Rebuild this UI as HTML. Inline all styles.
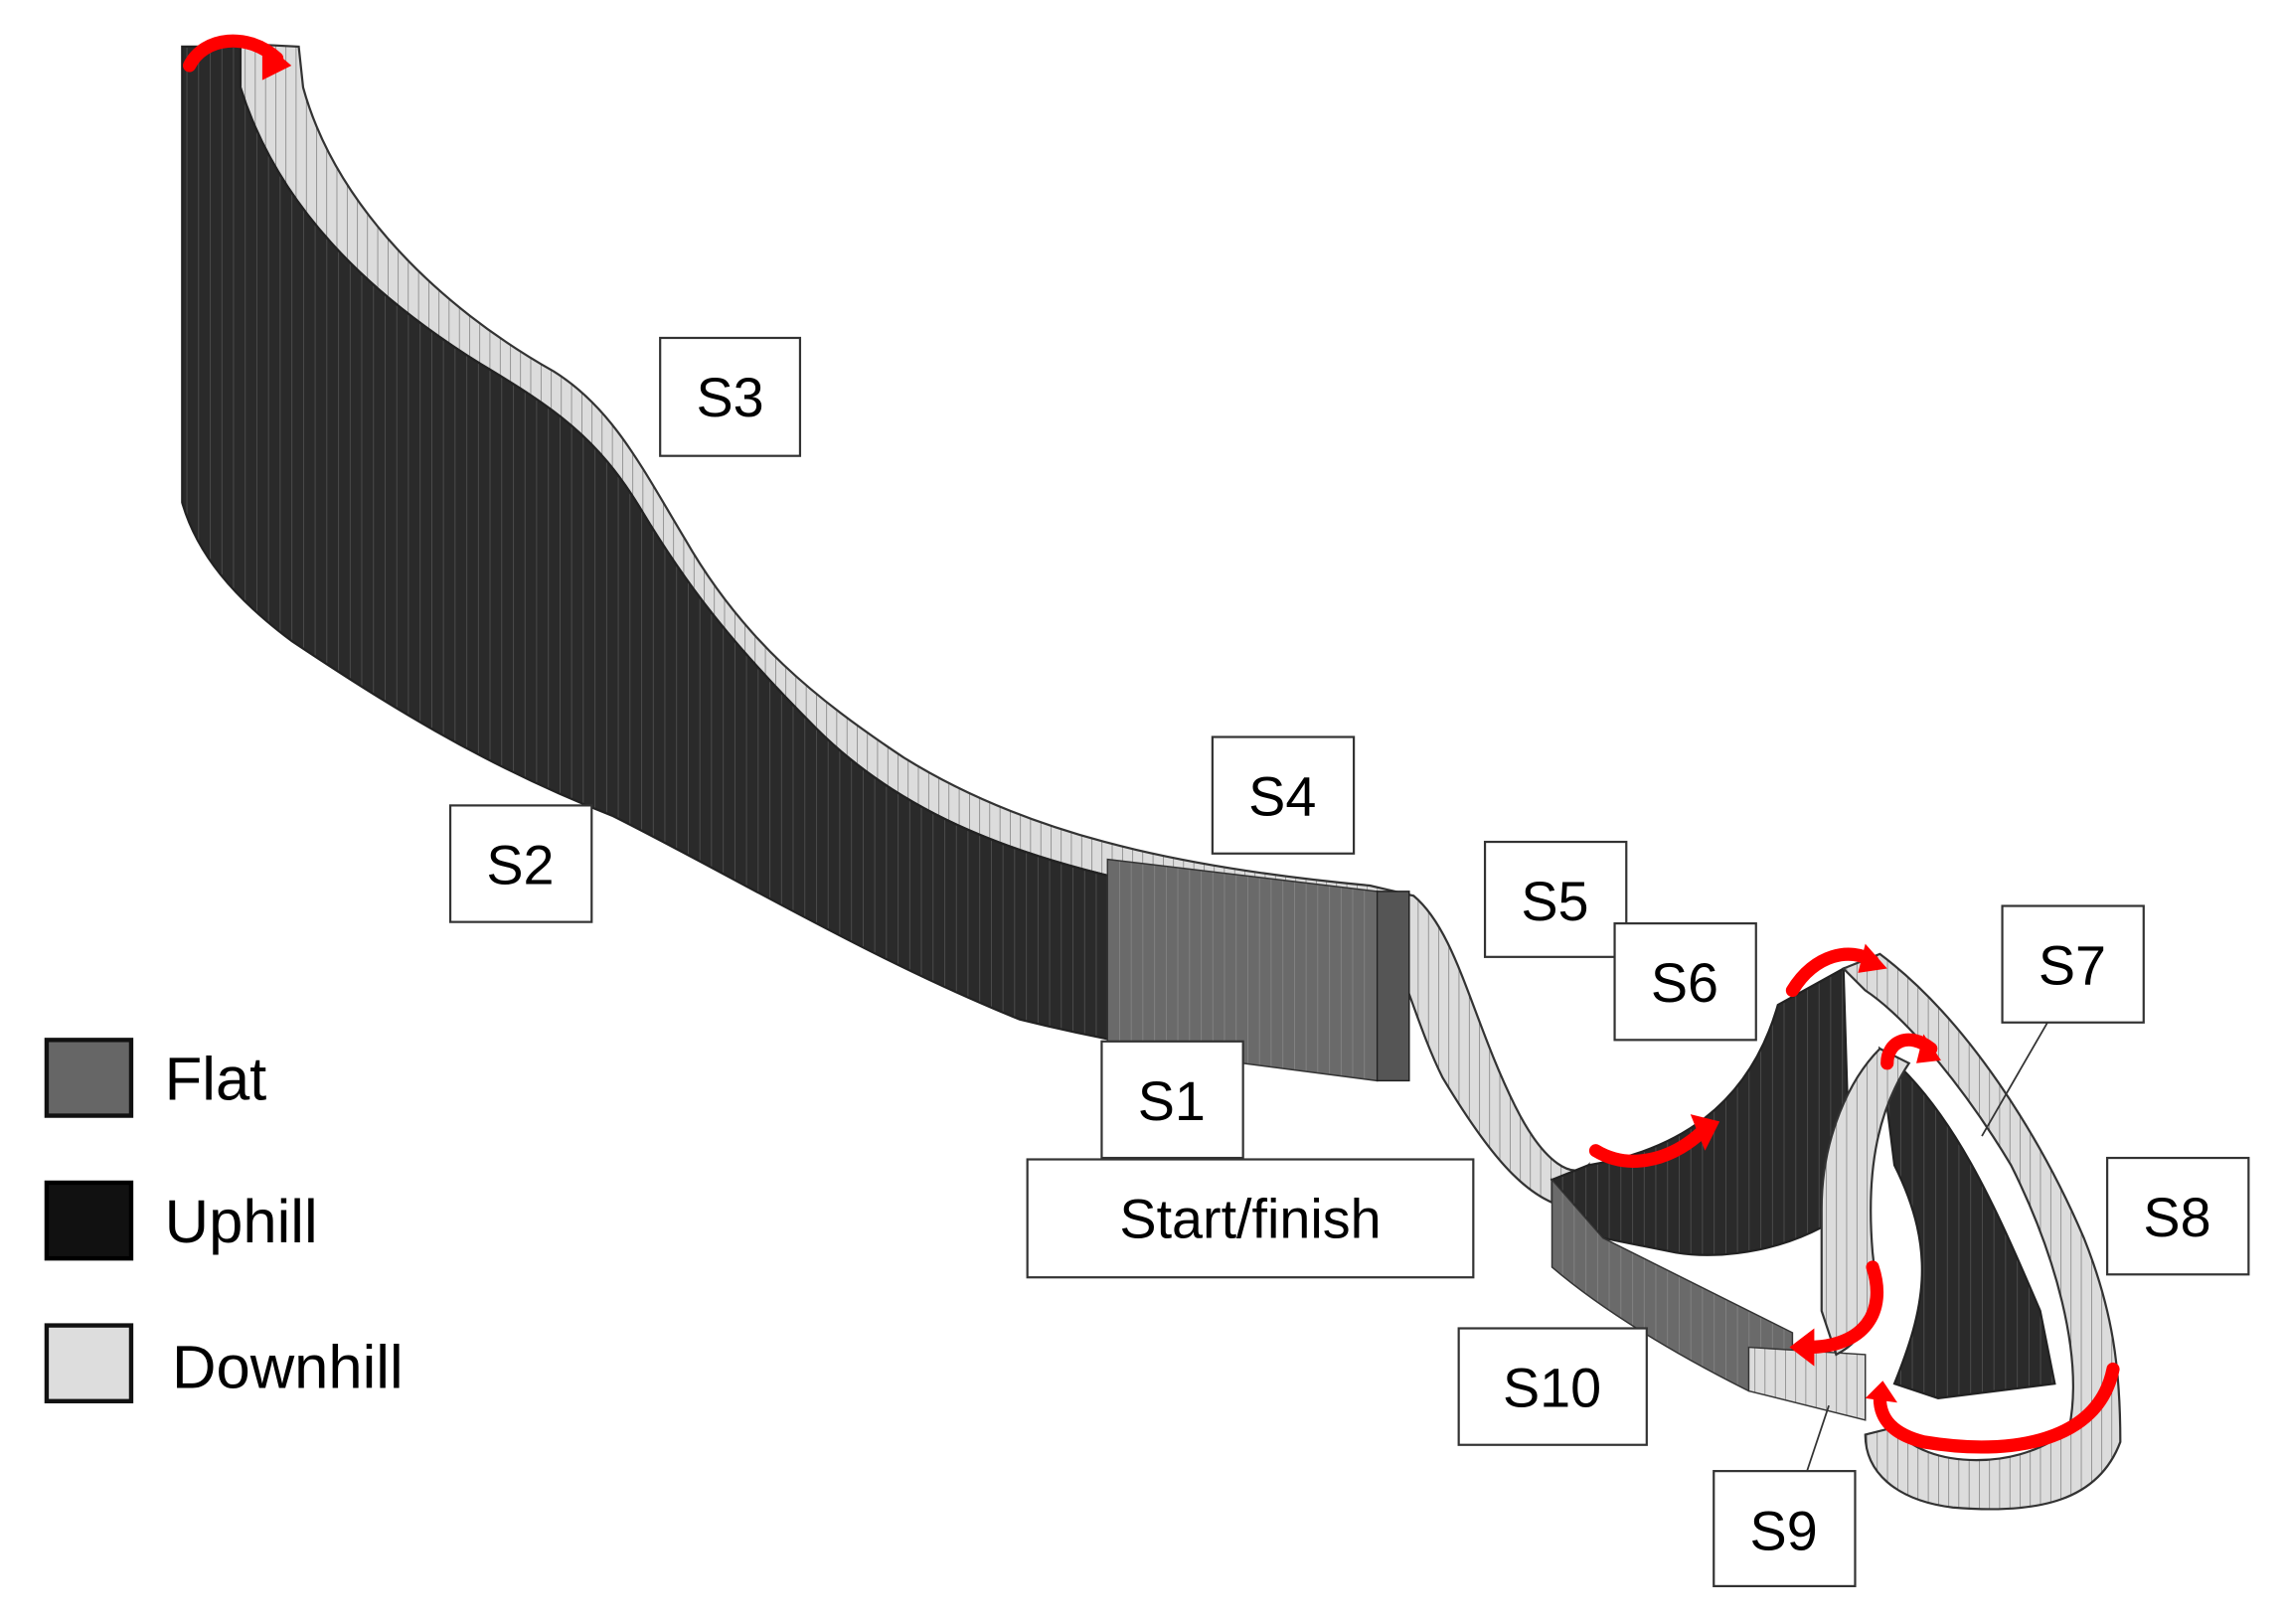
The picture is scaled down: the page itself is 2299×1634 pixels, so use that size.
<!DOCTYPE html>
<html><head><meta charset="utf-8"><style>
html,body{margin:0;padding:0;background:#fff;}
svg{display:block;}
text{font-family:"Liberation Sans",sans-serif;fill:#000;}
</style></head><body>
<svg width="2299" height="1634" viewBox="0 0 1568 1115" preserveAspectRatio="none" xmlns="http://www.w3.org/2000/svg">
<defs>
<pattern id="vl" width="8" height="10" patternUnits="userSpaceOnUse"><rect width="8" height="10" fill="#2a2a2a"/><line x1="0" y1="0" x2="0" y2="10" stroke="#555" stroke-width="1"/></pattern>
<pattern id="vlf" width="8" height="10" patternUnits="userSpaceOnUse"><rect width="8" height="10" fill="#6a6a6a"/><line x1="0" y1="0" x2="0" y2="10" stroke="#888" stroke-width="1"/></pattern>
<pattern id="vll" width="7" height="10" patternUnits="userSpaceOnUse"><rect width="7" height="10" fill="#dcdcdc"/><line x1="0" y1="0" x2="0" y2="10" stroke="#666" stroke-width="0.8"/></pattern>
</defs>
<!-- light top strip -->
<path d="M165,30 L205,32 L208,60 C230,140 300,210 380,255 C420,280 440,320 470,370 C510,440 560,480 620,520 C700,570 800,595 940,608 L970,615 C1000,640 1010,700 1040,760 C1060,800 1080,810 1090,800 L1085,830 C1050,830 1020,790 990,740 C970,700 960,650 945,640 L800,610 C700,590 620,560 560,500 C500,440 470,400 440,350 C410,300 380,280 330,250 C250,200 190,140 165,60 Z" fill="url(#vll)" stroke="#333" stroke-width="1.5"/>
<!-- main dark wall -->
<path d="M125,32 L165,32 L165,60 C190,140 250,200 330,250 C380,280 410,300 440,350 C470,400 500,440 560,500 C620,560 700,590 800,610 L945,615 L945,740 L900,735 C820,725 760,715 700,700 C600,660 500,600 420,560 C330,525 260,480 200,440 C160,410 135,380 125,345 Z" fill="url(#vl)" stroke="#222" stroke-width="1.5"/>
<!-- flat section -->
<path d="M760,590 L945,612 L945,742 L760,718 Z" fill="url(#vlf)" stroke="#333" stroke-width="1"/>
<rect x="945" y="612" width="22" height="130" fill="#555" stroke="#222"/>
<!-- right area -->
<path d="M1065,810 L1090,800 C1150,790 1200,760 1220,690 L1265,665 L1270,830 C1230,860 1180,865 1150,860 L1100,850 Z" fill="url(#vl)" stroke="#222" stroke-width="1.5"/>
<path d="M1065,810 L1100,850 L1230,915 L1230,950 L1200,955 C1150,930 1100,900 1065,870 Z" fill="url(#vlf)" stroke="#333" stroke-width="1"/>
<path d="M1200,925 L1280,930 L1280,975 L1200,955 Z" fill="url(#vll)" stroke="#333"/>
<path d="M1265,665 L1290,655 C1350,700 1400,780 1430,850 C1450,900 1455,940 1455,990 C1440,1030 1400,1040 1340,1035 C1300,1030 1280,1010 1280,985 L1300,980 C1320,1010 1390,1010 1420,980 C1430,930 1410,860 1380,800 C1350,750 1310,700 1280,680 Z" fill="url(#vll)" stroke="#333" stroke-width="1.5"/>
<path d="M1290,720 C1340,760 1370,830 1400,900 L1410,950 L1330,960 L1300,950 C1320,900 1330,860 1300,800 Z" fill="url(#vl)" stroke="#222" stroke-width="1.5"/>
<path d="M1250,830 C1250,780 1270,740 1290,720 L1310,730 C1290,760 1280,800 1285,860 C1290,900 1280,920 1260,930 L1250,900 Z" fill="url(#vll)" stroke="#333" stroke-width="1.5"/>
<!-- red arrows -->
<g fill="none" stroke="#f00" stroke-width="9" stroke-linecap="round">
<path d="M130,45 C140,25 170,22 190,40"/>
<path d="M1095,790 C1120,805 1150,795 1170,775"/>
<path d="M1230,680 C1245,655 1270,650 1285,660"/>
<path d="M1295,730 C1295,715 1310,708 1325,720"/>
<path d="M1285,870 C1295,900 1280,925 1240,925"/>
<path d="M1450,940 C1440,990 1380,1000 1320,990 C1300,985 1290,975 1290,960"/>
</g>
<g fill="#f00">
<polygon points="180,28 200,45 180,55"/>
<polygon points="1160,765 1180,770 1170,790"/>
<polygon points="1280,648 1295,665 1275,668"/>
<polygon points="1320,710 1332,728 1315,730"/>
<polygon points="1245,912 1228,925 1245,938"/>
<polygon points="1280,960 1292,948 1302,963"/>
</g>
<!-- leader lines -->
<line x1="1240" y1="1010" x2="1255" y2="965" stroke="#333" stroke-width="1.2"/>
<line x1="1405" y1="702" x2="1360" y2="780" stroke="#333" stroke-width="1.2"/>
<!-- labels -->
<g fill="#fff" stroke="#333" stroke-width="1.5">
<rect x="453" y="232" width="96" height="81"/>
<rect x="309" y="553" width="97" height="80"/>
<rect x="832" y="506" width="97" height="80"/>
<rect x="1019" y="578" width="97" height="79"/>
<rect x="1108" y="634" width="97" height="80"/>
<rect x="756" y="715" width="97" height="80"/>
<rect x="705" y="796" width="306" height="81"/>
<rect x="1374" y="622" width="97" height="80"/>
<rect x="1446" y="795" width="97" height="80"/>
<rect x="1001" y="912" width="129" height="80"/>
<rect x="1176" y="1010" width="97" height="79"/>
</g>
<g font-size="38" text-anchor="middle">
<text x="501" y="286">S3</text>
<text x="357" y="607">S2</text>
<text x="880" y="560">S4</text>
<text x="1067" y="632">S5</text>
<text x="1156" y="688">S6</text>
<text x="804" y="769">S1</text>
<text x="858" y="850">Start/finish</text>
<text x="1422" y="676">S7</text>
<text x="1494" y="849">S8</text>
<text x="1065" y="966">S10</text>
<text x="1224" y="1064">S9</text>
</g>
<!-- legend -->
<rect x="32" y="714" width="58" height="52" fill="#666" stroke="#111" stroke-width="3"/>
<rect x="32" y="812" width="58" height="52" fill="#111" stroke="#000" stroke-width="3"/>
<rect x="32" y="910" width="58" height="52" fill="#ddd" stroke="#111" stroke-width="3"/>
<g font-size="42">
<text x="113" y="755">Flat</text>
<text x="113" y="853">Uphill</text>
<text x="118" y="953">Downhill</text>
</g>
</svg>
</body></html>
